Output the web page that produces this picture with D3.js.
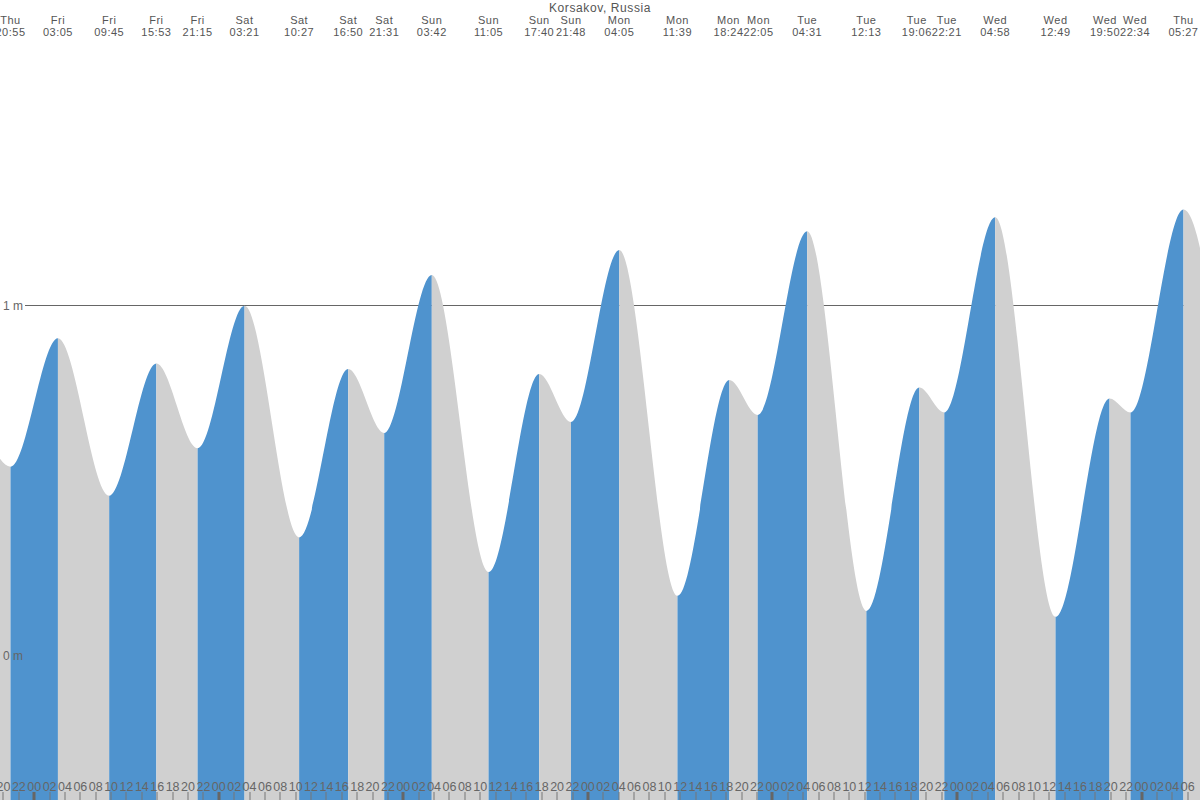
<!DOCTYPE html>
<html>
<head>
<meta charset="utf-8">
<script src="https://cdn.jsdelivr.net/npm/d3@7"></script>
<style>
html,body{margin:0;padding:0;background:#fff;}
svg{display:block;}
text{font-family:"Liberation Sans",Arial,sans-serif;}
</style>
</head>
<body>
<svg id="chart" width="1200" height="800"></svg>
<script>
// ---- data ----
const title = "Korsakov, Russia";
const viewRange = ["2024-01-04T19:33", "2024-01-11T07:36"];
// tide extremes (first and last lie just outside the visible window)
const extremeTimes = [
  "2024-01-04T14:50",
  "2024-01-04T20:55","2024-01-05T03:05","2024-01-05T09:45","2024-01-05T15:53","2024-01-05T21:15",
  "2024-01-06T03:21","2024-01-06T10:27","2024-01-06T16:50","2024-01-06T21:31",
  "2024-01-07T03:42","2024-01-07T11:05","2024-01-07T17:40","2024-01-07T21:48",
  "2024-01-08T04:05","2024-01-08T11:39","2024-01-08T18:24","2024-01-08T22:05",
  "2024-01-09T04:31","2024-01-09T12:13","2024-01-09T19:06","2024-01-09T22:21",
  "2024-01-10T04:58","2024-01-10T12:49","2024-01-10T19:50","2024-01-10T22:34",
  "2024-01-11T05:27",
  "2024-01-11T13:40"
];
const extremeHeights = [
  0.86,
  0.538,0.905,0.455,0.833,0.591,
  0.998,0.336,0.817,0.634,
  1.086,0.237,0.803,0.666,
  1.157,0.169,0.786,0.686,
  1.211,0.126,0.764,0.693,
  1.251,0.109,0.733,0.693,
  1.273,
  0.10
];
const levelTicks = [0, 1];
const levelLabels = ["0 m", "1 m"];

// ---- drawing ----
const W = 1200, H = 800;
const parse = d3.utcParse("%Y-%m-%dT%H:%M");
const data = extremeTimes.map((t, i) => ({t: parse(t), h: extremeHeights[i]}));
const x = d3.scaleUtc().domain(viewRange.map(parse)).range([0, W]);
const y = d3.scaleLinear().domain([0, 1]).range([655, 305]);

const svg = d3.select("#chart");
const blue = "#4f93ce", grey = "#d0d0d0", txt = "#555";

// 1 m reference line (behind fill)
svg.append("line")
  .attr("x1", 25).attr("x2", W)
  .attr("y1", Math.round(y(1)) + 0.5).attr("y2", Math.round(y(1)) + 0.5)
  .attr("stroke", "#666").attr("stroke-width", 1);

// area clip
const area = d3.area()
  .x(d => x(d.t)).y0(H).y1(d => y(d.h))
  .curve(d3.curveMonotoneX);
svg.append("clipPath").attr("id", "tideClip")
  .append("path").attr("d", area(data));

const g = svg.append("g").attr("clip-path", "url(#tideClip)");
const segs = d3.pairs(data);
g.selectAll("rect.seg").data(segs).join("rect")
  .attr("class", "seg")
  .attr("x", d => x(d[0].t))
  .attr("width", d => x(d[1].t) - x(d[0].t))
  .attr("y", 0).attr("height", H)
  .attr("fill", d => d[1].h > d[0].h ? blue : grey);

// level labels
svg.selectAll("text.lvl").data(levelTicks).join("text")
  .attr("class", "lvl")
  .attr("x", 23).attr("y", d => y(d) + 4.5)
  .attr("text-anchor", "end")
  .attr("font-size", 12).attr("fill", "#666")
  .text((d, i) => levelLabels[i]);

// title
svg.append("text").attr("x", W / 2).attr("y", 11.5)
  .attr("text-anchor", "middle").attr("font-size", 12).attr("fill", txt)
  .attr("letter-spacing", 0.6)
  .text(title);

// top extreme labels (pushed apart when they would collide)
const [v0, v1] = x.domain();
const visible = data.filter(d => d.t >= v0 && d.t <= v1);
const fDay = d3.utcFormat("%a"), fTime = d3.utcFormat("%H:%M");
const lab = svg.selectAll("g.ext").data(visible).join("g").attr("class", "ext");
lab.append("text").attr("class", "day").attr("y", 23.5).attr("text-anchor", "middle")
  .attr("font-size", 11).attr("letter-spacing", 0.5).attr("fill", txt).text(d => fDay(d.t));
lab.append("text").attr("class", "tm").attr("y", 36).attr("text-anchor", "middle")
  .attr("font-size", 11).attr("letter-spacing", 0.5).attr("fill", txt).text(d => fTime(d.t));
const widths = [];
lab.each(function() {
  const ws = [];
  d3.select(this).selectAll("text").each(function() { ws.push(this.getComputedTextLength()); });
  widths.push(Math.max(...ws));
});
const pos = visible.map(d => x(d.t));
for (let it = 0; it < 20; it++) {
  for (let i = 0; i < pos.length - 1; i++) {
    const need = (widths[i] + widths[i + 1]) / 2;
    const gap = pos[i + 1] - pos[i];
    if (gap < need) {
      const push = (need - gap) / 2;
      pos[i] -= push; pos[i + 1] += push;
    }
  }
}
lab.attr("transform", (d, i) => `translate(${pos[i]},0)`);

// bottom hour axis
const hours = d3.utcHour.every(2).range(v0, v1);
const fHour = d3.utcFormat("%H");
svg.selectAll("text.hr").data(hours).join("text")
  .attr("class", "hr")
  .attr("x", d => x(d)).attr("y", 791)
  .attr("text-anchor", "middle").attr("font-size", 12.5).attr("fill", "#666")
  .text(d => fHour(d));
svg.selectAll("rect.tk").data(hours).join("rect")
  .attr("class", "tk")
  .attr("x", d => d.getUTCHours() === 0 ? Math.round(x(d)) - 1.5 : Math.round(x(d)) - 0.5)
  .attr("width", d => d.getUTCHours() === 0 ? 3 : 1)
  .attr("y", 792).attr("height", 8)
  .attr("fill", d => d.getUTCHours() === 0 ? "#666" : "#777");
</script>
</body>
</html>
